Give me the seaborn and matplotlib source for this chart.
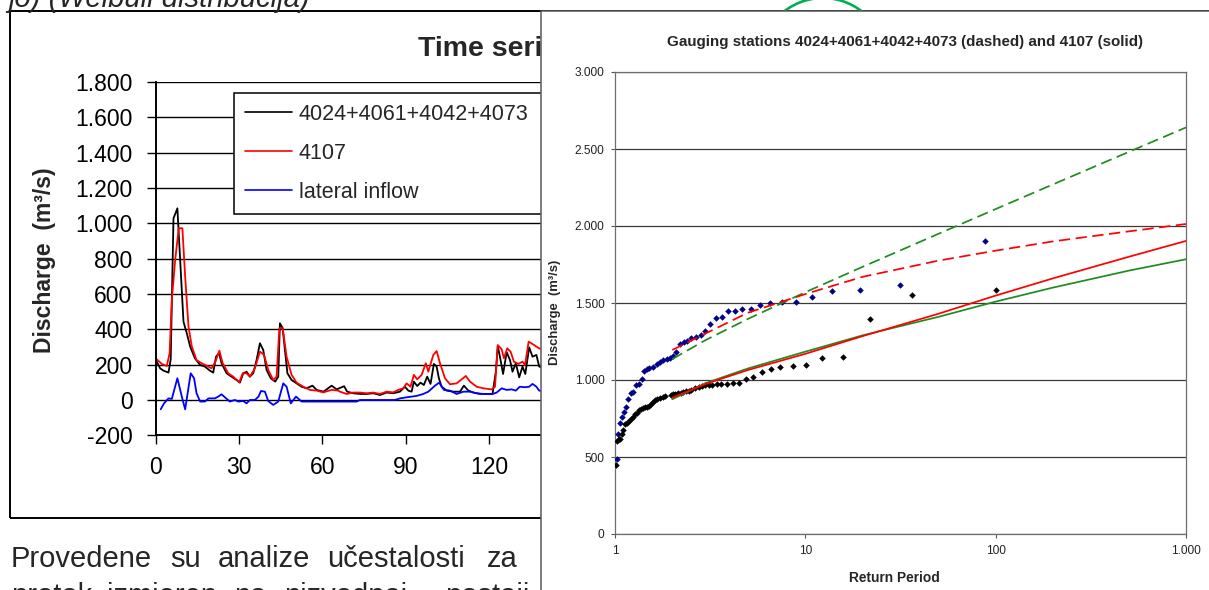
import matplotlib
matplotlib.use("Agg")
import matplotlib.pyplot as plt
from matplotlib.patches import Rectangle, Circle
from matplotlib.ticker import NullLocator
from matplotlib import font_manager
import seaborn as sns

# ---------------- data: left chart (time series) ----------------
black_day = [0.4, 1.6, 2.8, 4.6, 5.4, 6.4, 7.8, 10.0, 11.2, 12.4, 14.1, 16.0, 17.7, 19.5, 20.7, 21.7, 22.8,
             23.7, 25.5, 27.3, 29.1, 30.3, 31.5, 32.7, 33.9, 35.1, 36.3, 37.5, 38.7, 39.9, 41.4, 43.0, 44.1,
             44.7, 45.7, 46.5, 47.4, 48.9, 50.7, 52.5, 54.3, 56.4, 57.9, 60.4, 63.3, 65.1, 67.8, 68.9, 71.1,
             73.5, 75.9, 78.3, 80.7, 83.1, 85.5, 87.9, 89.7, 90.9, 92.1, 92.9, 94.1, 95.3, 96.5, 97.7, 98.9,
             100.1, 101.1, 101.9, 102.9, 104.7, 107.1, 109.5, 110.9, 112.5, 114.3, 116.7, 119.1, 121.2, 122.4,
             123.1, 124.1, 125.0, 126.3, 127.5, 128.4, 129.6, 130.8, 132.0, 133.0, 134.4, 135.6, 137.0, 138.0,
             139.5]
black_q = [217, 179, 166, 155, 230, 1028, 1085, 443, 377, 302, 236, 198, 189, 166, 155, 245, 265,
           208, 151, 132, 113, 98, 151, 160, 132, 151, 226, 321, 283, 170, 123, 104, 132,
           434, 406, 283, 151, 113, 94, 75, 66, 81, 57, 47, 81, 60, 78, 47, 38,
           34, 34, 38, 28, 42, 38, 47, 75, 53, 47, 104, 79, 98, 85, 132, 91,
           204, 189, 123, 75, 53, 47, 47, 81, 53, 42, 34, 34, 34, 160,
           306, 226, 147, 270, 226, 160, 208, 128, 189, 147, 298, 245, 255, 189,
           180]

red_day = [0.4, 2.2, 4.0, 5.0, 5.8, 7.0, 8.3, 9.6, 10.6, 11.8, 13.0, 14.7, 16.5, 18.3, 20.1, 21.5, 22.9,
           24.1, 26.1, 27.9, 30.1, 31.3, 32.7, 33.9, 35.7, 37.5, 39.0, 40.5, 42.3, 43.5, 44.5, 45.7, 47.1,
           48.9, 50.7, 53.1, 55.5, 57.9, 60.3, 63.3, 65.7, 66.3, 68.7, 71.1, 73.5, 75.9, 78.3, 80.7, 83.1,
           85.5, 87.3, 89.1, 90.3, 91.7, 92.9, 94.1, 95.7, 97.2, 98.1, 99.9, 101.1, 102.3, 104.1, 105.9,
           108.3, 110.1, 111.6, 113.1, 115.5, 117.9, 120.9, 122.1, 123.1, 124.5, 125.3, 126.5, 127.7,
           128.9, 130.5, 132.0, 132.9, 134.2, 135.6, 137.0, 138.0, 139.5]
red_q = [230, 204, 192, 264, 566, 792, 972, 972, 698, 415, 302, 226, 208, 194, 179, 217, 279,
         208, 151, 132, 100, 151, 151, 132, 179, 274, 255, 170, 113, 132, 406, 406, 245,
         142, 98, 75, 57, 53, 43, 57, 53, 47, 34, 42, 42, 38, 42, 34, 47,
         43, 57, 66, 94, 75, 142, 117, 142, 208, 160, 255, 277, 208, 123, 89,
         94, 117, 136, 104, 75, 66, 60, 75, 311, 287, 236, 292, 274,
         217, 204, 217, 198, 330, 317, 302, 292, 285]

blue_day = [1.8, 3.0, 4.6, 5.8, 7.8, 9.4, 10.6, 12.6, 13.8, 14.7, 16.0, 17.7, 19.0, 21.3, 22.5, 23.7,
            24.9, 26.7, 28.5, 29.7, 31.5, 32.7, 33.9, 35.7, 37.0, 37.9, 39.3, 40.5, 42.3, 44.1, 45.9,
            47.1, 48.6, 50.5, 52.5, 72.3, 73.5, 86.1, 87.9, 90.3, 93.9, 96.3, 98.1, 100.5, 102.0, 103.7,
            105.9, 108.3, 110.7, 113.1, 115.5, 117.9, 121.2, 122.7, 124.5, 126.3, 128.1, 129.6, 131.0,
            132.9, 134.4, 135.6, 137.0, 138.0, 139.5]
blue_q = [-53, -19, 9, 6, 123, 19, -53, 151, 123, 38, -9, -9, 9, 9, 19, 32,
          15, -9, 0, -9, -6, -19, 0, 0, 19, 51, 47, -6, -28, -9, 94,
          75, -19, 19, -9, -9, 0, 0, 9, 15, 23, 34, 47, 81, 98, 57,
          53, 34, 47, 47, 38, 34, 34, 42, 66, 57, 60, 53, 75,
          72, 75, 91, 75, 53, 50]

ts_labels = ["4024+4061+4042+4073", "4107", "lateral inflow"]
ts_colors = ["#000000", "#FF0000", "#0000FF"]
left_yticks = list(range(-200, 1801, 200))
left_xticks = list(range(0, 361, 30))

# ---------------- data: right chart (frequency analysis) ----------------
blue_T = [1.02, 1.04, 1.06, 1.09, 1.115, 1.14, 1.17, 1.21, 1.25, 1.29, 1.33, 1.39, 1.42, 1.47, 1.51,
          1.58, 1.66, 1.72, 1.79, 1.87, 1.95, 2.01, 2.09, 2.19, 2.30, 2.40, 2.52, 2.66, 2.82, 2.98,
          3.16, 3.39, 3.65, 3.92, 4.29, 4.66, 5.17, 5.78, 6.52, 7.51, 8.92, 10.8, 13.8, 19.3, 31.3, 88]
blue_Q = [485, 647, 723, 762, 790, 827, 875, 914, 920, 968, 974, 1005, 1058, 1069, 1080,
          1083, 1104, 1119, 1130, 1137, 1145, 1156, 1180, 1232, 1249, 1253, 1271, 1277, 1292, 1316,
          1364, 1401, 1411, 1448, 1448, 1461, 1459, 1487, 1498, 1505, 1509, 1541, 1578, 1585, 1619, 1903]

black_T = [1.012, 1.029, 1.045, 1.062, 1.088, 1.106, 1.124, 1.152, 1.18, 1.209, 1.238, 1.268, 1.299,
           1.331, 1.375, 1.409, 1.443, 1.479, 1.515, 1.552, 1.59, 1.629, 1.669, 1.723, 1.78, 1.839,
           1.961, 2.009, 2.075, 2.143, 2.213, 2.286, 2.36, 2.44, 2.52, 2.64, 2.75, 2.87, 2.98, 3.11,
           3.24, 3.42, 3.62, 3.86, 4.15, 4.5, 4.86, 5.33, 5.92, 6.6, 7.39, 8.58, 10.1, 12.3, 15.8,
           21.8, 36.2, 100]
black_Q = [448, 606, 615, 619, 647, 675, 714, 723, 736, 749, 762, 777, 788,
           805, 814, 818, 822, 827, 831, 844, 859, 870, 874, 883, 890, 898,
           905, 909, 909, 913, 918, 920, 926, 929, 933, 950, 955, 961, 965, 970,
           968, 972, 972, 976, 978, 978, 1004, 1022, 1052, 1070, 1082, 1093, 1099, 1145, 1149,
           1394, 1554, 1585]

fit_T = [2, 3, 5, 10, 20, 50, 100, 200, 500, 1000]
red_dashed = [1195, 1303, 1437, 1558, 1670, 1775, 1840, 1900, 1965, 2013]
green_dashed = [1136, 1260, 1397, 1570, 1735, 1949, 2110, 2270, 2481, 2640]
red_solid = [885, 975, 1065, 1170, 1285, 1430, 1548, 1660, 1800, 1903]
green_solid = [875, 980, 1075, 1184, 1290, 1410, 1509, 1600, 1710, 1784]

right_yticks = [0, 500, 1000, 1500, 2000, 2500, 3000]
right_xticks = [1, 10, 100, 1000]

right_title = "Gauging stations 4024+4061+4042+4073 (dashed) and 4107 (solid)"

body_line1 = ["Provedene", "su", "analize", "učestalosti", "za"]
body_line2 = ["protok", "izmjeren", "na", "nizvodnoj", "postaji,"]

# ---------------- style ----------------
sns.set_style("white")
plt.rcParams['font.family'] = ['Liberation Sans', 'DejaVu Sans']
avail = {f.name for f in font_manager.fontManager.ttflist}
NARROW = 'Liberation Sans Narrow' in avail
narrow_fam = ['Liberation Sans Narrow', 'Liberation Sans', 'DejaVu Sans'] if NARROW else ['Liberation Sans', 'DejaVu Sans']
nscale = 1.0 if NARROW else 0.9

W, H = 1209, 590
fig = plt.figure(figsize=(W / 100, H / 100), dpi=100)
fig.patch.set_facecolor('white')


def fbox(x0, y0, x1, y1):
    return [x0 / W, 1 - y1 / H, (x1 - x0) / W, (y1 - y0) / H]


def fx(x):
    return x / W


def fy(y):
    return 1 - y / H


def thous(v):
    return f"{v:,}".replace(",", ".")


# ---------------- top italic text & body text ----------------
fig.text(fx(310), fy(7), "jo) (Weibull distribucija)", ha='right', va='baseline',
         fontsize=21, style='italic', zorder=2)

x1_pos = [10.7, 170, 218, 327, 487]
x2_pos = [10.7, 107, 234, 284, 445]
for w, x in zip(body_line1, x1_pos):
    fig.text(fx(x), fy(567), w, ha='left', va='baseline', fontsize=21, zorder=2)
for w, x in zip(body_line2, x2_pos):
    fig.text(fx(x), fy(604), w, ha='left', va='baseline', fontsize=21, zorder=2)

# ---------------- left chart ----------------
fig.add_artist(Rectangle((fx(10), fy(518)), (1400 - 10) / W, (518 - 11) / H,
                         transform=fig.transFigure, fill=False, edgecolor='black',
                         lw=1.4, zorder=1.5))

axL = fig.add_axes(fbox(155.7, 82, 1170, 435.3))
axL.set_zorder(1)
axL.set_facecolor('none')
for d, q, c, lab in zip([black_day, red_day, blue_day], [black_q, red_q, blue_q], ts_colors, ts_labels):
    sns.lineplot(x=d, y=q, ax=axL, color=c, lw=1.3, label=lab, sort=False, estimator=None)
axL.set_xlim(0, 365)
axL.set_ylim(-200, 1800)
axL.set_yticks(left_yticks)
axL.set_yticklabels([thous(v) for v in left_yticks])
axL.set_xticks(left_xticks)
axL.set_xticklabels([str(v) for v in left_xticks])
axL.set_xlabel("")
axL.set_ylabel("")
axL.tick_params(axis='both', direction='out', length=6.7, width=1.0, color='black',
                labelsize=16.5, labelcolor='black')
axL.tick_params(axis='y', pad=10, left=True)
axL.tick_params(axis='x', pad=8, bottom=True)
for s in ['top', 'right']:
    axL.spines[s].set_visible(False)
for s in ['left', 'bottom']:
    axL.spines[s].set_color('black')
    axL.spines[s].set_linewidth(1.4)
axL.yaxis.grid(True, color='black', lw=1.0)
axL.xaxis.grid(False)
axL.set_axisbelow(True)
leg = axL.legend(loc='upper left',
                 bbox_to_anchor=(fx(234), fy(300), 480 / W, (300 - 93) / H),
                 bbox_transform=fig.transFigure, mode='expand',
                 borderaxespad=0, frameon=True, fancybox=False, edgecolor='black', framealpha=1,
                 fontsize=15.5, handlelength=2.2, handletextpad=0.3, borderpad=0.5, labelspacing=0.84)
leg.get_frame().set_linewidth(1.1)
for line in leg.get_lines():
    line.set_linewidth(1.2)

fig.text(fx(418), fy(56), "Time series", ha='left', va='baseline', fontsize=20.5,
         fontweight='bold', zorder=2)
fig.text(fx(45), fy(260), "Discharge  (m³/s)", rotation=90, ha='center', va='center',
         fontsize=16.5, fontweight='bold', zorder=2)

# ---------------- green arc (document graphic) ----------------
fig.add_artist(Circle((823 / 100, (H - 61) / 100), 0.63, transform=fig.dpi_scale_trans,
                      fill=False, edgecolor='#00B050', lw=1.9, zorder=2.5))

# ---------------- right chart ----------------
fig.add_artist(Rectangle((fx(541), fy(800)), (1500 - 541) / W, (800 - 11) / H,
                         transform=fig.transFigure, facecolor='white', edgecolor='#5a5a5a',
                         lw=1.1, zorder=3))

axR = fig.add_axes(fbox(615, 72, 1186, 534))
axR.set_zorder(4)
axR.set_facecolor('white')
axR.set_xscale('log')
sns.scatterplot(x=blue_T, y=blue_Q, ax=axR, color='#00008B', marker='D', s=11, linewidth=0, zorder=3)
sns.scatterplot(x=black_T, y=black_Q, ax=axR, color='black', marker='D', s=11, linewidth=0, zorder=3)
for vals, col, dashed in [(green_dashed, '#1E8C1E', True), (red_dashed, '#FF0000', True),
                          (green_solid, '#1E8C1E', False), (red_solid, '#FF0000', False)]:
    sns.lineplot(x=fit_T, y=vals, ax=axR, color=col, lw=1.25, sort=False, estimator=None, zorder=4)
    ln = axR.lines[-1]
    if dashed:
        ln.set_dashes([6.5, 3.2])
axR.set_xlim(1, 1000)
axR.set_ylim(0, 3000)
axR.set_xticks(right_xticks)
axR.set_xticklabels([thous(v) for v in right_xticks])
axR.xaxis.set_minor_locator(NullLocator())
axR.set_yticks(right_yticks)
axR.set_yticklabels([thous(v) for v in right_yticks])
axR.set_xlabel("")
axR.set_ylabel("")
axR.tick_params(axis='both', direction='out', length=2.6, width=0.8, color='#555555',
                labelsize=8.6, labelcolor='#222222', pad=5)
axR.tick_params(axis='y', left=True)
axR.tick_params(axis='x', bottom=True)
for s in axR.spines.values():
    s.set_visible(True)
    s.set_color('#6e6e6e')
    s.set_linewidth(0.9)
axR.yaxis.grid(True, color='#3a3a3a', lw=0.9)
axR.xaxis.grid(False)
axR.set_axisbelow(True)

fig.text(fx(905), fy(42), right_title, ha='center', va='center', family=narrow_fam,
         fontsize=12.1 * nscale, fontweight='bold', zorder=5)
fig.text(fx(555), fy(312), "Discharge  (m³/s)", rotation=90, ha='center', va='center',
         family=narrow_fam, fontsize=10.4 * nscale, fontweight='bold', zorder=5)
fig.text(fx(894), fy(578), "Return Period", ha='center', va='center', family=narrow_fam,
         fontsize=11 * nscale, fontweight='bold', zorder=5)

fig.savefig("out.png", dpi=100)
